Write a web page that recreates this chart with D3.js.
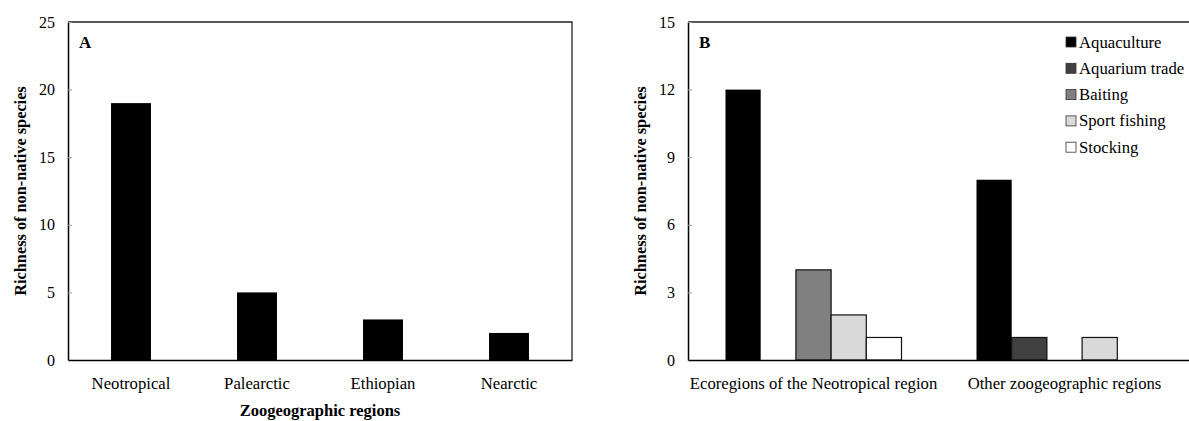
<!DOCTYPE html>
<html>
<head>
<meta charset="utf-8">
<script src="https://cdn.jsdelivr.net/npm/d3@7"></script>
<style>
  body { margin: 0; background: #fff; }
  svg text { font-family: "Liberation Serif", "Times New Roman", serif; fill: #000; }
</style>
</head>
<body>
<svg id="chart" width="1189" height="421"></svg>
<script>
// PANEL A DATA
const regionsA = ['Neotropical', 'Palearctic', 'Ethiopian', 'Nearctic'];
const richnessA = [19, 5, 3, 2];
const ticksA = [0, 5, 10, 15, 20, 25];

// PANEL B DATA
const groupsB = ['Ecoregions of the Neotropical region', 'Other zoogeographic regions'];
const pathwaysB = ['Aquaculture', 'Aquarium trade', 'Baiting', 'Sport fishing', 'Stocking'];
const pathwayColors = ['#000000', '#404040', '#808080', '#d9d9d9', '#ffffff'];
const neotropicalB = [12, 0, 4, 2, 1];
const otherB = [8, 1, 0, 1, 0];
const ticksB = [0, 3, 6, 9, 12, 15];

const svg = d3.select('#chart');
const fs = '16.7px';

// Draw frame, y axis, x labels shared by both panels
function drawFrame(g, box, y, ticks, x) {
  // Plot border (top/right)
  g.append('path')
    .attr('d', `M${box.left},${box.top}H${box.right}V${box.bottom}`)
    .attr('fill', 'none').attr('stroke', '#222').attr('stroke-width', 1.3);

  let yAxis = g.append('g').attr('transform', `translate(${box.left},0)`)
    .call(d3.axisLeft(y).tickValues(ticks).tickSizeInner(-4).tickSizeOuter(0).tickPadding(13));
  yAxis.attr('font-family', null);
  yAxis.select('.domain').attr('stroke', '#000').attr('stroke-width', 1.5);
  yAxis.selectAll('.tick line').attr('stroke', '#999');
  yAxis.selectAll('text').style('font-size', '16px');

  let xAxis = g.append('g').attr('transform', `translate(0,${box.bottom})`)
    .call(d3.axisBottom(x).tickSize(0).tickPadding(17));
  xAxis.attr('font-family', null);
  xAxis.select('.domain').attr('stroke', '#000').attr('stroke-width', 1.5);
  xAxis.selectAll('text').style('font-size', fs);
}

function yTitle(g, box) {
  g.append('text')
    .attr('transform', `translate(${box.left - 48},${(box.top + box.bottom) / 2}) rotate(-90)`)
    .attr('text-anchor', 'middle').attr('dy', '0.35em')
    .style('font-size', '16.3px').style('font-weight', 'bold')
    .text('Richness of non-native species');
}

function panelLetter(g, box, t) {
  g.append('text').attr('x', box.left + 11).attr('y', box.top + 26)
    .style('font-size', '17px').style('font-weight', 'bold').text(t);
}

// ---------- Panel A ----------
const boxA = { left: 68, right: 572, top: 22, bottom: 360 };
const gA = svg.append('g');
const xA = d3.scaleBand().domain(regionsA).range([boxA.left, boxA.right])
  .paddingInner(0.683).paddingOuter(0.3415);
const yA = d3.scaleLinear().domain([0, 25]).range([boxA.bottom, boxA.top]);

gA.selectAll('rect.bar').data(regionsA).enter().append('rect')
  .attr('class', 'bar')
  .attr('x', d => xA(d))
  .attr('width', xA.bandwidth())
  .attr('y', (d, i) => yA(richnessA[i]))
  .attr('height', (d, i) => yA(0) - yA(richnessA[i]))
  .attr('fill', '#000');

drawFrame(gA, boxA, yA, ticksA, xA);
yTitle(gA, boxA);
panelLetter(gA, boxA, 'A');

gA.append('text')
  .attr('x', (boxA.left + boxA.right) / 2).attr('y', 416)
  .attr('text-anchor', 'middle')
  .style('font-size', '16.5px').style('font-weight', 'bold')
  .text('Zoogeographic regions');

// ---------- Panel B ----------
const boxB = { left: 688, right: 1190, top: 22, bottom: 360 };
const gB = svg.append('g');
const x0 = d3.scaleBand().domain(groupsB).range([boxB.left, boxB.right]);
const x1 = d3.scaleBand().domain(pathwaysB).range([0, x0.bandwidth()]).paddingOuter(1.065);
const yB = d3.scaleLinear().domain([0, 15]).range([boxB.bottom, boxB.top]);

const valuesB = [neotropicalB, otherB];
groupsB.forEach(function(grp, gi) {
  pathwaysB.forEach(function(p, pi) {
    let v = valuesB[gi][pi];
    if (v === 0) { return; }
    gB.append('rect')
      .attr('x', x0(grp) + x1(p))
      .attr('width', x1.bandwidth())
      .attr('y', yB(v))
      .attr('height', yB(0) - yB(v))
      .attr('fill', pathwayColors[pi])
      .attr('stroke', pi === 0 ? 'none' : '#111')
      .attr('stroke-width', 1.2);
  });
});

drawFrame(gB, boxB, yB, ticksB, x0);
yTitle(gB, boxB);
panelLetter(gB, boxB, 'B');

// Legend
const legend = gB.append('g').attr('transform', 'translate(1066,42)');
pathwaysB.forEach(function(p, i) {
  let row = legend.append('g').attr('transform', `translate(0,${i * 26.3})`);
  row.append('rect').attr('x', 0).attr('y', -5).attr('width', 10).attr('height', 10)
    .attr('fill', pathwayColors[i]).attr('stroke', '#333').attr('stroke-width', 0.8);
  row.append('text').attr('x', 13).attr('dy', '0.33em')
    .style('font-size', fs).text(p);
});
</script>
</body>
</html>
